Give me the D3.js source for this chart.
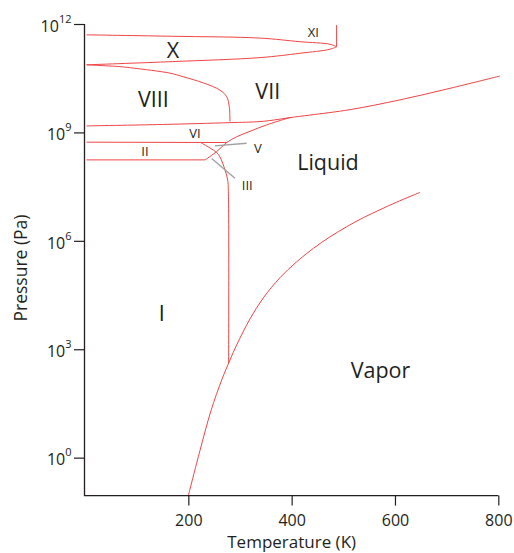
<!DOCTYPE html>
<html>
<head>
<meta charset="utf-8">
<script src="https://cdn.jsdelivr.net/npm/d3@7"></script>
<style>
  body { margin: 0; background: #fff; }
  svg { display: block; font-family: "Open Sans", sans-serif; }
</style>
</head>
<body>
<div id="chart"></div>
<script>
// phase diagram of water, every point is [temperature K, log10 pressure Pa]
var vaporCurve = [[200,-1.05],[222.6,0.2],[243.9,1.3],[264.6,2.15],[280.6,2.7],[293.6,3.12],
  [319.4,3.84],[345.1,4.42],[377.4,4.98],[409.7,5.42],[441.9,5.79],[474.2,6.11],[506.5,6.39],
  [538.6,6.64],[571,6.86],[603.3,7.07],[648.4,7.34]];
var iceIMelt = [[278,2.63],[277.6,7.3],[276.2,7.68],[271,7.96],[261.3,8.32],[254.9,8.44],[241.9,8.57],[222.6,8.73]];
var liquidIceCurve = [[232.3,8.24],[254.9,8.47],[274.3,8.72],[293.6,8.88],[319.4,9.03],[338.7,9.14],[364.4,9.27],[396.7,9.41]];
var iceVIILine = [[3,9.18],[150,9.22],[280,9.27],[338.7,9.3],[364,9.34],[396.7,9.41],[435.5,9.48],
  [512.9,9.63],[609.7,9.9],[706.4,10.22],[803,10.56]];
var iceVIIICurve = [[3,10.87],[67.7,10.82],[93.5,10.78],[164.5,10.64],[190.3,10.54],[229,10.37],
  [261.3,10.17],[274.2,9.99],[279.3,9.71],[280.6,9.3]];
var iceXUpper = [[3,11.7],[170,11.66],[339,11.61],[416,11.51],[474,11.44],[487,11.37]];
var iceXLower = [[3,10.87],[170,10.96],[339,11.07],[416,11.19],[474,11.3],[487,11.37]];
var iceXILine = [[487,11.37],[487,11.97]];
var iceIIVILine = [[3,8.73],[274.3,8.72]];
var iceIIILine = [[3,8.24],[232.3,8.24]];
var boundaries = [vaporCurve, iceIMelt, liquidIceCurve, iceVIILine, iceVIIICurve,
  iceXUpper, iceXLower, iceXILine, iceIIVILine, iceIIILine];

// grey pointers for the small phases
var pointerV = [[251.6,8.63],[312.9,8.7]];
var pointerIII = [[245.2,8.28],[290.3,7.73]];

var bigNames = ["X","VIII","VII","I","Liquid","Vapor"];
var bigT = [170.3,132.2,353.8,148.4,470.3,571.9];
var bigLogP = [11.26,9.91,10.15,4.0,8.18,2.43];
var smallNames = ["XI","VI","II","V","III"];
var smallT = [441.9,212.9,116.1,334.4,314.1];
var smallLogP = [11.77,8.98,8.49,8.57,7.53];

var tempTicks = [200,400,600,800];
var pressureExps = [0,3,6,9,12];

var width = 514, height = 553;
var ink = "#231f20";

var svg = d3.select("#chart").append("svg")
    .attr("width", width)
    .attr("height", height);

var x = d3.scaleLinear().domain([0, 800]).range([85, 498.3]);
var y = d3.scaleLog().domain([Math.pow(10, -1.05), 1e12]).range([495.6, 24]);
var py = function(e) { return y(Math.pow(10, e)); };

var line = d3.line()
    .x(function(d) { return x(d[0]); })
    .y(function(d) { return py(d[1]); })
    .curve(d3.curveCatmullRom.alpha(0.5));

svg.append("g").selectAll("path")
    .data(boundaries)
  .enter().append("path")
    .attr("d", line)
    .attr("fill", "none")
    .attr("stroke", "#ef4545")
    .attr("stroke-width", 1);

svg.append("g").selectAll("path")
    .data([pointerV, pointerIII])
  .enter().append("path")
    .attr("d", d3.line().x(function(d) { return x(d[0]); }).y(function(d) { return py(d[1]); }))
    .attr("stroke", "#a0a0a0")
    .attr("stroke-width", 1.3);

// axes
var xAxis = svg.append("g")
    .attr("transform", "translate(0," + 495.6 + ")")
    .call(d3.axisBottom(x).tickValues(tempTicks).tickSize(10).tickSizeOuter(0).tickPadding(9));

var yAxis = svg.append("g")
    .attr("transform", "translate(84,0)")
    .call(d3.axisLeft(y).tickValues(pressureExps.map(function(e) { return Math.pow(10, e); }))
      .tickSize(10).tickSizeOuter(0).tickPadding(2.5));

svg.selectAll(".domain").remove();
svg.selectAll(".tick line").attr("stroke", ink).attr("stroke-width", 1.2);
svg.selectAll(".tick text")
    .attr("fill", ink)
    .attr("font-family", "Open Sans, sans-serif")
    .attr("font-size", 16);

yAxis.selectAll(".tick text")
    .attr("dy", "0.45em")
    .text(null)
    .each(function(d, i) {
      var t = d3.select(this);
      t.append("tspan").text("10");
      t.append("tspan").attr("dy", -9).attr("font-size", 11).text(pressureExps[i]);
    });

svg.append("path")
    .attr("d", "M" + (x(0) - 0.5) + "," + y.range()[1] + "V" + y.range()[0] + "H" + x(800))
    .attr("fill", "none")
    .attr("stroke", ink)
    .attr("stroke-width", 1.3);

svg.append("text")
    .attr("x", (x(0) + x(800)) / 2)
    .attr("y", 548)
    .attr("text-anchor", "middle")
    .attr("font-size", 17)
    .attr("fill", ink)
    .text("Temperature (K)");

svg.append("text")
    .attr("transform", "translate(26.5," + 268 + ") rotate(-90)")
    .attr("text-anchor", "middle")
    .attr("font-size", 17.5)
    .attr("fill", ink)
    .text("Pressure (Pa)");

// phase names
svg.append("g").selectAll("text")
    .data(bigNames)
  .enter().append("text")
    .attr("x", function(d, i) { return x(bigT[i]); })
    .attr("y", function(d, i) { return py(bigLogP[i]); })
    .attr("dy", "0.36em")
    .attr("text-anchor", "middle")
    .attr("font-size", 21.5)
    .attr("fill", ink)
    .text(function(d) { return d; });

svg.append("g").selectAll("text")
    .data(smallNames)
  .enter().append("text")
    .attr("x", function(d, i) { return x(smallT[i]); })
    .attr("y", function(d, i) { return py(smallLogP[i]); })
    .attr("dy", "0.36em")
    .attr("text-anchor", "middle")
    .attr("font-size", 13)
    .attr("fill", ink)
    .text(function(d) { return d; });
</script>
</body>
</html>
